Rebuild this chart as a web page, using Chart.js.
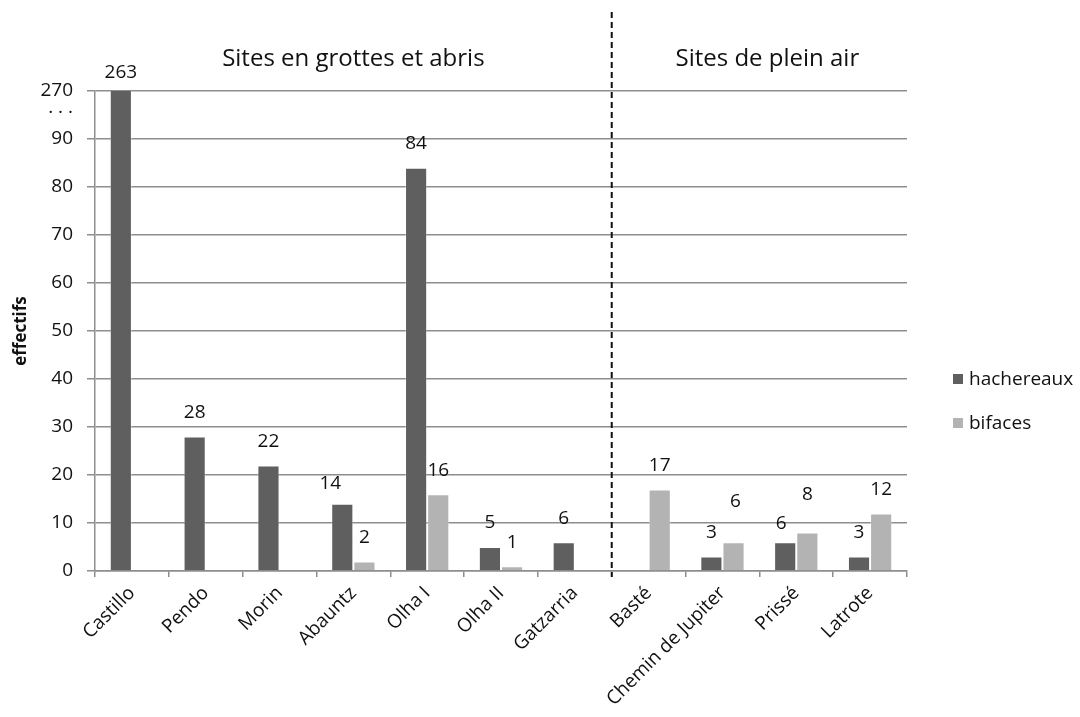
<!DOCTYPE html>
<html><head><meta charset="utf-8">
<script src="https://cdn.jsdelivr.net/npm/chart.js@4/dist/chart.umd.min.js"></script>
<style>html,body{margin:0;padding:0;background:#fff}canvas{display:block}</style>
</head><body>
<canvas id="c" width="1080" height="717"></canvas>
<script>
// Sites and counts of bifacial tools
const sites = ['Castillo','Pendo','Morin','Abauntz','Olha I','Olha II','Gatzarria','Basté','Chemin de Jupiter','Prissé','Latrote'];
const hachereaux = [263,28,22,14,84,5,6,0,3,6,3];
const bifaces = [0,0,0,2,16,1,0,17,6,8,12];
const seriesNames = ['hachereaux','bifaces'];
const groupTitles = ['Sites en grottes et abris','Sites de plein air'];
const caveSiteCount = 7;
// broken axis: the top tick stands for 270
const yTickValues = [0,10,20,30,40,50,60,70,80,90,96.5,100];
const yTickLabels = ['0','10','20','30','40','50','60','70','80','90','. . .','270'];
const yAxisTitle = 'effectifs';

const FONT = '"Open Sans", "Liberation Sans", sans-serif';
const GRID = '#8e8e8e';
const DARK = '#5f5f5f';
const LIGHT = '#b3b3b3';
const INK = '#111';

// label nudges [dx, dy] in pixels, per series and category
const labelNudge = {
  '0:0': [0, 6], '0:3': [-12, 4], '0:9': [-4, 5],
  '1:8': [2, -17], '1:9': [0, -14]
};

const valueLabels = {
  id: 'valueLabels',
  afterDatasetsDraw(chart) {
    const ctx = chart.ctx, area = chart.chartArea;
    ctx.save();
    ctx.font = '19px ' + FONT;
    ctx.fillStyle = INK;
    ctx.textAlign = 'center';
    ctx.textBaseline = 'middle';
    chart.data.datasets.forEach((ds, di) => {
      chart.getDatasetMeta(di).data.forEach((el, i) => {
        const v = ds.data[i];
        if (!v) return;
        const n = labelNudge[di + ':' + i] || [0, 0];
        const top = Math.max(el.y, area.top);
        ctx.fillText(String(v), el.x + n[0], top - 24 + n[1]);
      });
    });
    ctx.restore();
  }
};

const groupDecor = {
  id: 'groupDecor',
  afterDraw(chart) {
    const ctx = chart.ctx, xs = chart.scales.x, area = chart.chartArea;
    const px = i => xs.getPixelForValue(i);
    const split = (px(caveSiteCount - 1) + px(caveSiteCount)) / 2;
    ctx.save();
    // dashed separator
    ctx.strokeStyle = '#111';
    ctx.lineWidth = 2;
    ctx.setLineDash([6, 4]);
    ctx.beginPath();
    ctx.moveTo(split, 12);
    ctx.lineTo(split, area.bottom + 6);
    ctx.stroke();
    ctx.setLineDash([]);
    // group titles
    ctx.font = '24px ' + FONT;
    ctx.fillStyle = INK;
    ctx.textAlign = 'center';
    ctx.textBaseline = 'alphabetic';
    ctx.fillText(groupTitles[0], (px(0) + px(caveSiteCount - 1)) / 2, 66);
    ctx.fillText(groupTitles[1], (px(caveSiteCount) + px(sites.length - 1)) / 2 + 8, 66);
    // legend
    ctx.font = '19px ' + FONT;
    ctx.textAlign = 'left';
    chart.data.datasets.forEach((ds, di) => {
      const y = 379 + di * 44;
      ctx.fillStyle = ds.backgroundColor;
      ctx.fillRect(953, y - 5, 10, 10);
      ctx.fillStyle = INK;
      ctx.textBaseline = 'middle';
      ctx.fillText(ds.label, 969, y + 1);
    });
    ctx.restore();
  }
};

new Chart(document.getElementById('c'), {
  type: 'bar',
  data: {
    labels: sites,
    datasets: [
      { label: seriesNames[0], data: hachereaux, backgroundColor: DARK, borderColor: 'rgba(255,255,255,0.35)', borderWidth: 1, clip: 0 },
      { label: seriesNames[1], data: bifaces, backgroundColor: LIGHT, borderColor: 'rgba(255,255,255,0.35)', borderWidth: 1, clip: 0 }
    ]
  },
  options: {
    responsive: false,
    animation: false,
    devicePixelRatio: 1,
    barPercentage: 1,
    categoryPercentage: 0.6,
    layout: { padding: { left: 0, right: 173, top: 91, bottom: 0 } },
    plugins: { legend: { display: false }, tooltip: { enabled: false } },
    scales: {
      x: {
        grid: { drawOnChartArea: false, drawTicks: true, tickLength: 6, color: GRID, lineWidth: 1.5, offset: true },
        border: { color: GRID, width: 1.5 },
        ticks: { autoSkip: false, minRotation: 45, maxRotation: 45, padding: 5, color: INK, font: { family: FONT, size: 19 } },
        afterFit(s) { s.height = 146; }
      },
      y: {
        min: 0, max: 100,
        afterBuildTicks(s) { s.ticks = yTickValues.map(v => ({ value: v })); },
        grid: {
          color: c => (c.tick && c.tick.value === 96.5) ? 'rgba(0,0,0,0)' : GRID,
          lineWidth: 1.5, tickLength: 8
        },
        border: { color: GRID, width: 1.5 },
        ticks: {
          padding: 14, color: INK, font: { family: FONT, size: 19 },
          callback: v => yTickLabels[yTickValues.indexOf(v)]
        },
        title: { display: true, text: yAxisTitle, color: INK, font: { family: FONT, size: 17, weight: 'bold' }, padding: { top: 11, bottom: 0 } },
        afterFit(s) { s.width = 95; }
      }
    }
  },
  plugins: [valueLabels, groupDecor]
});
</script>
</body></html>
